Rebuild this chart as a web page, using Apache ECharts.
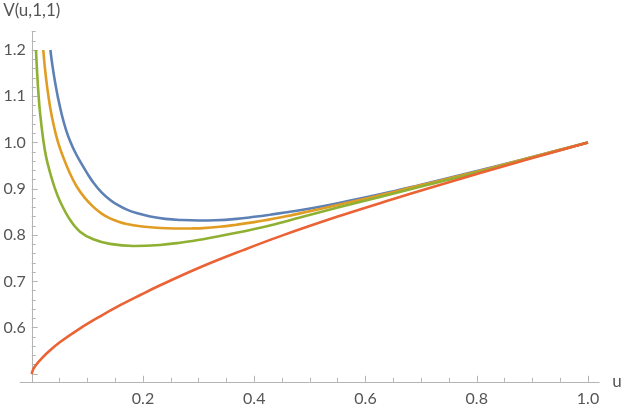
<!DOCTYPE html>
<html>
<head>
<meta charset="utf-8">
<script src="https://cdn.jsdelivr.net/npm/echarts@6/dist/echarts.min.js"></script>
<style>
  html, body { margin: 0; padding: 0; background: #fff; }
  #chart { width: 623px; height: 412px; }
</style>
</head>
<body>
<div id="chart"></div>
<script>
// values (u, V)
const uBlue = [0.0335, 0.037, 0.042, 0.047, 0.054, 0.062, 0.07, 0.078, 0.088, 0.099, 0.111, 0.125, 0.141, 0.156, 0.171, 0.19, 0.213, 0.24, 0.27, 0.30, 0.33, 0.368, 0.40, 0.428, 0.455, 0.482, 0.55, 0.626, 0.70, 0.806, 0.90, 1.0];
const vBlue = [1.200, 1.168, 1.130, 1.098, 1.060, 1.026, 1.000, 0.979, 0.957, 0.935, 0.913, 0.893, 0.876, 0.864, 0.855, 0.847, 0.840, 0.835, 0.8325, 0.8315, 0.832, 0.835, 0.8395, 0.844, 0.8488, 0.8538, 0.869, 0.888, 0.909, 0.940, 0.969, 1.0];

const uOrange = [0.0207, 0.024, 0.028, 0.033, 0.039, 0.047, 0.0567, 0.068, 0.0808, 0.095, 0.1107, 0.125, 0.1407, 0.156, 0.1707, 0.195, 0.2186, 0.243, 0.2665, 0.29, 0.308, 0.338, 0.368, 0.40, 0.428, 0.455, 0.482, 0.55, 0.626, 0.70, 0.806, 0.90, 1.0];
const vOrange = [1.2, 1.157, 1.117, 1.077, 1.040, 1.0016, 0.968, 0.935, 0.905, 0.881, 0.861, 0.847, 0.836, 0.829, 0.824, 0.819, 0.8165, 0.8148, 0.8142, 0.8145, 0.815, 0.818, 0.8225, 0.828, 0.834, 0.840, 0.847, 0.865, 0.886, 0.908, 0.939, 0.969, 1.0];

const uGreen = [0.0076, 0.0095, 0.0118, 0.015, 0.0208, 0.026, 0.0328, 0.041, 0.0508, 0.0688, 0.0867, 0.1107, 0.1407, 0.1826, 0.2306, 0.2665, 0.308, 0.368, 0.428, 0.482, 0.55, 0.626, 0.70, 0.806, 0.90, 1.0];
const vGreen = [1.2, 1.155, 1.11, 1.063, 1.005, 0.968, 0.9355, 0.903, 0.873, 0.833, 0.8075, 0.791, 0.781, 0.7766, 0.7787, 0.7835, 0.791, 0.805, 0.821, 0.838, 0.8595, 0.8825, 0.905, 0.937, 0.9675, 1.0];

const uRed = [0, 0.001, 0.004, 0.008, 0.015, 0.03, 0.051, 0.087, 0.123, 0.159, 0.195, 0.229, 0.303, 0.38, 0.446, 0.55, 0.626, 0.70, 0.806, 0.90, 1.0];
const vRed = [0.5, 0.505, 0.513, 0.520, 0.530, 0.548, 0.569, 0.5985, 0.6245, 0.6485, 0.6705, 0.6905, 0.7305, 0.7675, 0.7973, 0.840, 0.869, 0.8965, 0.934, 0.9665, 1.0];

// ticks
const xMajor = [0, 0.2, 0.4, 0.6, 0.8, 1.0];
const xLabels = [0.2, 0.4, 0.6, 0.8, 1.0];
const xMinor = [0.05, 0.1, 0.15, 0.25, 0.3, 0.35, 0.45, 0.5, 0.55, 0.65, 0.7, 0.75, 0.85, 0.9, 0.95];
const yMajor = [0.5, 0.6, 0.7, 0.8, 0.9, 1.0, 1.1, 1.2];
const yLabels = [0.6, 0.7, 0.8, 0.9, 1.0, 1.1, 1.2];
const yMinor = [0.52, 0.54, 0.56, 0.58, 0.62, 0.64, 0.66, 0.68, 0.72, 0.74, 0.76, 0.78,
  0.82, 0.84, 0.86, 0.88, 0.92, 0.94, 0.96, 0.98, 1.02, 1.04, 1.06, 1.08,
  1.12, 1.14, 1.16, 1.18, 1.22, 1.24];

const axisGray = '#b4b4b4';
const textGray = '#555';
const font = 'Lato';

const pairs = (us, vs) => us.map((u, i) => [u, vs[i]]);

const chart = echarts.init(document.getElementById('chart'));

// x axis line runs a little left of u = 0; the y axis sits at u = 0
const xMin = -0.021;
const xMax = 1.02;
const gridLeft = 20.07;
const gridWidth = 579.06;
const yAxisShift = -xMin * gridWidth / (xMax - xMin);

const xRange = { type: 'value', min: xMin, max: xMax, splitLine: { show: false } };
const yRange = { type: 'value', min: 0.483, max: 1.24, splitLine: { show: false } };

const line = (name, us, vs, color) => ({
  name,
  type: 'line',
  data: pairs(us, vs),
  smooth: 0.4,
  showSymbol: false,
  lineStyle: { width: 2.6, color },
  itemStyle: { color }
});

chart.setOption({
  animation: false,
  grid: { left: gridLeft, top: 31.5, width: gridWidth, height: 350.3, outerBoundsMode: 'none', containLabel: false },
  xAxis: [
    {
      ...xRange,
      name: 'u',
      nameLocation: 'end',
      nameGap: 13,
      nameTextStyle: { color: textGray, fontFamily: font, fontSize: 17 },
      axisLine: { onZero: false, lineStyle: { color: axisGray, width: 1 } },
      axisTick: { inside: true, length: 6, customValues: xMajor, lineStyle: { color: axisGray } },
      axisLabel: {
        customValues: xLabels,
        formatter: v => v.toFixed(1),
        color: textGray, fontFamily: font, fontSize: 16, margin: 9
      }
    },
    {
      ...xRange,
      position: 'bottom',
      axisLine: { show: false, onZero: false },
      axisTick: { inside: true, length: 4, customValues: xMinor, lineStyle: { color: axisGray } },
      axisLabel: { show: false }
    }
  ],
  yAxis: [
    {
      ...yRange,
      position: 'left',
      offset: -yAxisShift,
      name: 'V(u,1,1)',
      nameLocation: 'end',
      nameGap: 12,
      nameTextStyle: { color: textGray, fontFamily: font, fontSize: 17 },
      axisLine: { onZero: false, lineStyle: { color: axisGray, width: 1 } },
      axisTick: { inside: true, length: 6, customValues: yMajor, lineStyle: { color: axisGray } },
      axisLabel: {
        customValues: yLabels,
        formatter: v => v.toFixed(1),
        color: textGray, fontFamily: font, fontSize: 16, margin: 6
      }
    },
    {
      ...yRange,
      position: 'left',
      offset: -yAxisShift,
      axisLine: { show: false, onZero: false },
      axisTick: { inside: true, length: 4, customValues: yMinor, lineStyle: { color: axisGray } },
      axisLabel: { show: false }
    }
  ],
  series: [
    line('blue', uBlue, vBlue, '#5E81B5'),
    line('orange', uOrange, vOrange, '#E19C24'),
    line('green', uGreen, vGreen, '#8FB032'),
    line('red', uRed, vRed, '#EB6235')
  ]
});
</script>
</body>
</html>
